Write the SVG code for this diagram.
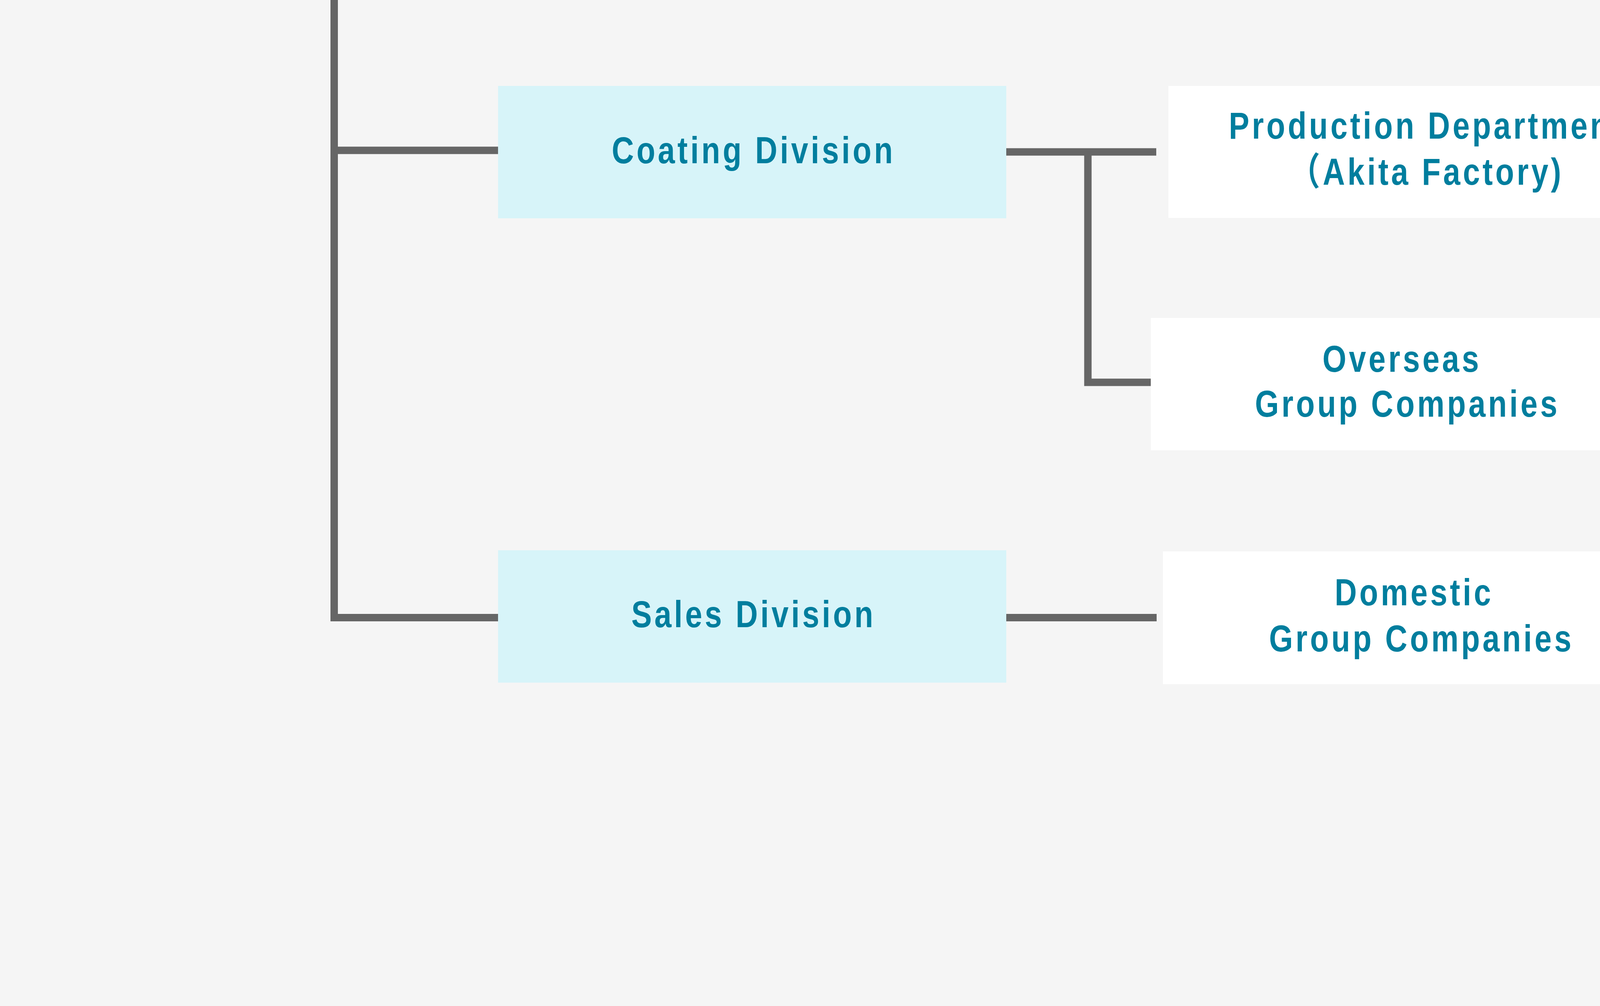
<svg xmlns="http://www.w3.org/2000/svg" width="7292" height="2576" viewBox="0 0 7292 2576">
  <style>
    .div { fill: #d7f4f9; }
    .sub { fill: #ffffff; }
    .lbl { font-family: "Liberation Sans", "Noto Sans CJK JP", Arial, sans-serif; font-weight: bold; font-size: 97px; fill: #007e9e; text-anchor: middle; letter-spacing: 8.2px; }
    .conn { fill: none; stroke: #666666; stroke-width: 19; stroke-linejoin: miter; stroke-linecap: butt; }
  </style>
  <rect x="0" y="0" width="7292" height="2576" fill="#f5f5f5"/>
  <g id="connectors">
    <path class="conn" d="M855.5 0 V1581.5 H1276"/>
    <path class="conn" d="M855.5 385 H1276"/>
    <path class="conn" d="M2575 389 H2960"/>
    <path class="conn" d="M2785 389 V979 H2946"/>
    <path class="conn" d="M2575 1581.5 H2961"/>
  </g>
  <g id="coating-division">
    <rect class="div" x="1275" y="220" width="1301" height="339"/>
    <g transform="translate(1929,0) scale(0.81,1)">
      <text class="lbl" x="0" y="418">Coating Division</text>
    </g>
  </g>
  <g id="sales-division">
    <rect class="div" x="1275" y="1409" width="1301" height="339"/>
    <g transform="translate(1929,0) scale(0.81,1)">
      <text class="lbl" x="0" y="1606">Sales Division</text>
    </g>
  </g>
  <g id="production-department">
    <rect class="sub" x="2991" y="220" width="1308" height="338"/>
    <g transform="translate(3652,0) scale(0.81,1)">
      <text class="lbl" x="0" y="355">Production Department</text>
      <text class="lbl" x="0" y="473">（Akita Factory)</text>
    </g>
  </g>
  <g id="overseas-group-companies">
    <rect class="sub" x="2946" y="814" width="1307" height="339"/>
    <g transform="translate(3589,0) scale(0.81,1)">
      <text class="lbl" x="0" y="952">Overseas</text>
    </g>
    <g transform="translate(3603,0) scale(0.81,1)">
      <text class="lbl" x="0" y="1067">Group Companies</text>
    </g>
  </g>
  <g id="domestic-group-companies">
    <rect class="sub" x="2977" y="1412" width="1308" height="340"/>
    <g transform="translate(3620,0) scale(0.81,1)">
      <text class="lbl" x="0" y="1550">Domestic</text>
    </g>
    <g transform="translate(3639,0) scale(0.81,1)">
      <text class="lbl" x="0" y="1668">Group Companies</text>
    </g>
  </g>
</svg>
